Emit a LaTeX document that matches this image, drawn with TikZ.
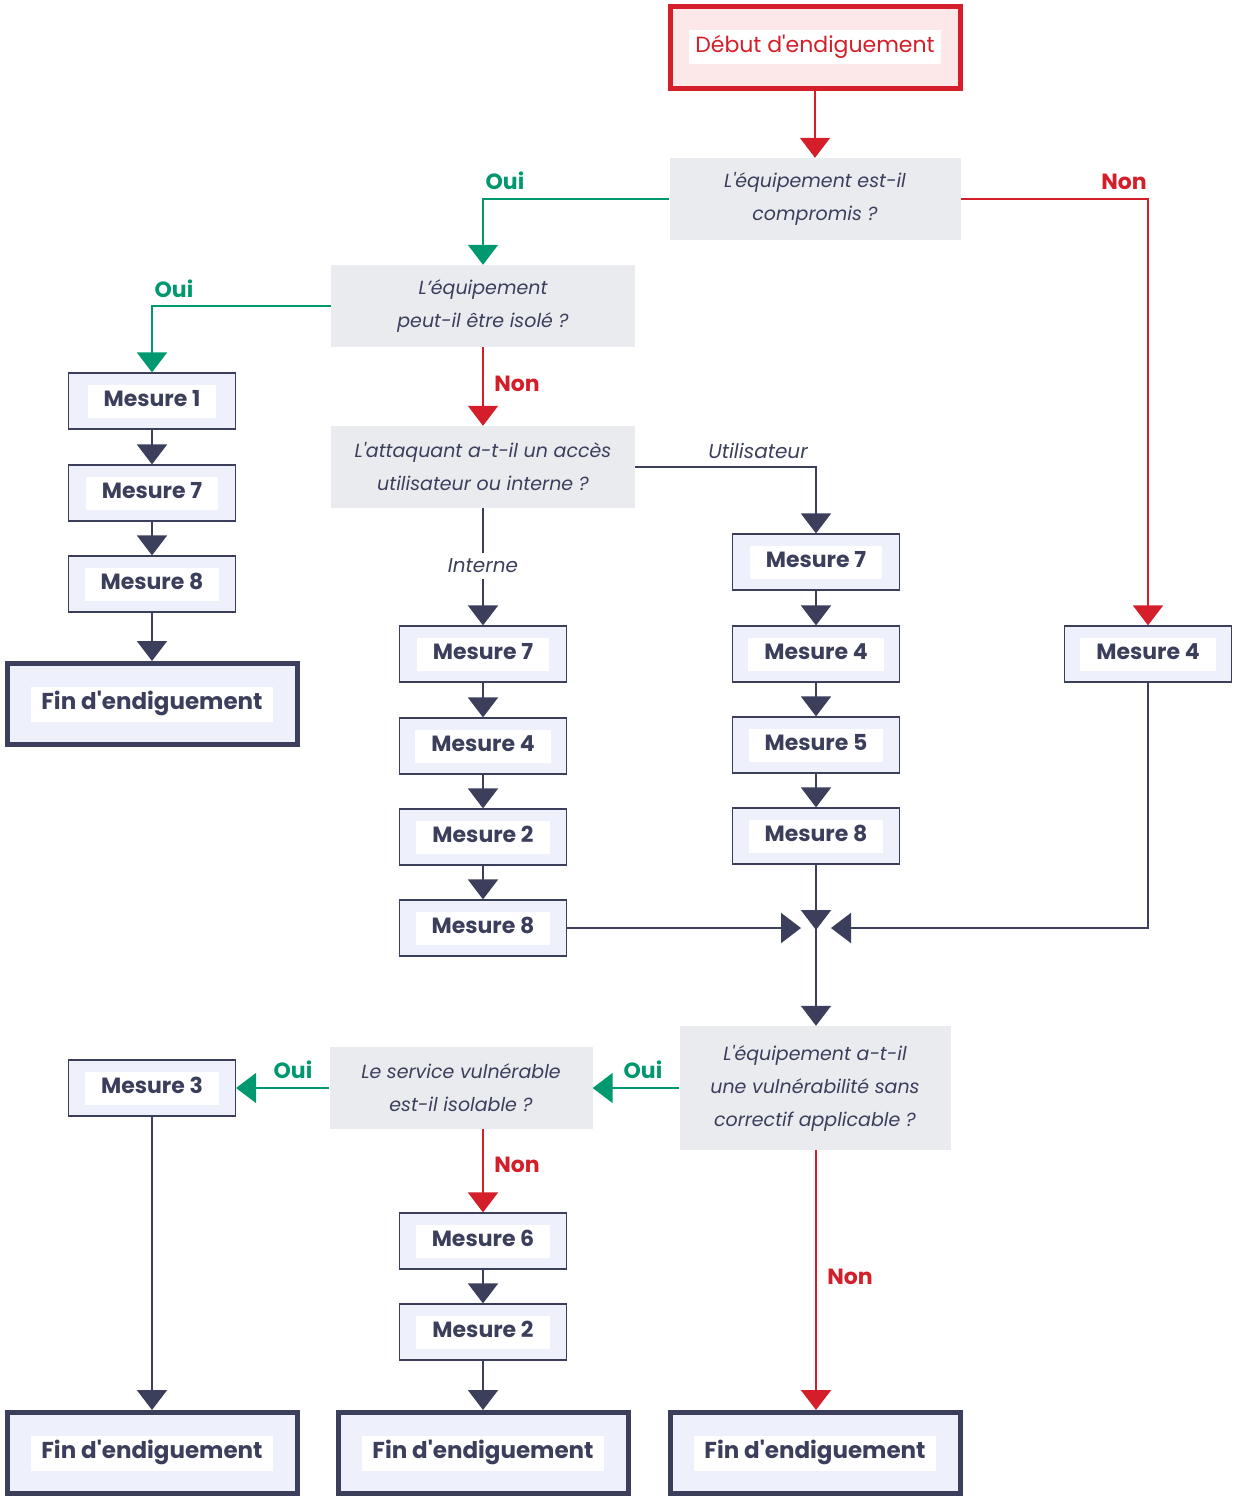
\documentclass[tikz,border=0pt]{standalone}
\usepackage{fontspec}
\setmainfont{Poppins}
\usetikzlibrary{arrows.meta}
\definecolor{dk}{HTML}{3B3F5C}
\definecolor{rd}{HTML}{D41F2A}
\definecolor{gr}{HTML}{00986F}
\definecolor{bx}{HTML}{EEF1FB}
\definecolor{qg}{HTML}{E9EBEF}
\definecolor{pk}{HTML}{FCE8E8}
\newcommand{\ap}{\textquotesingle}
\newcommand{\wb}[1]{{\setlength\fboxsep{4pt}\colorbox{white}{\strut\hspace{12pt}#1\hspace{12pt}}}}
\begin{document}
\begin{tikzpicture}[x=1pt,y=-1pt,
 m/.style={draw=dk,line width=1.2pt,fill=bx,minimum width=167pt,minimum height=56pt,inner sep=0pt,text=dk,font=\fontsize{22}{25}\selectfont\bfseries},
 fin/.style={draw=dk,line width=5pt,fill=bx,minimum width=290pt,minimum height=81pt,inner sep=0pt,text=dk,font=\fontsize{23}{27}\selectfont\bfseries},
 q/.style={fill=qg,text=dk,align=center,font=\fontsize{19}{33}\selectfont\itshape,inner sep=0pt},
 a/.style={line width=1.8pt,-{Triangle[width=30pt,length=20pt]}},
 lg/.style={text=gr,font=\fontsize{22}{26}\selectfont\bfseries},
 lr/.style={text=rd,font=\fontsize{22}{26}\selectfont\bfseries},
 li/.style={text=dk,font=\fontsize{20}{22}\selectfont\itshape,fill=white}]
\useasboundingbox (0,0) rectangle (1237,1500);
\node[draw=rd,line width=5pt,fill=pk,minimum width=290pt,minimum height=82pt,inner sep=0pt,text=rd,font=\fontsize{22}{25}\selectfont] (start) at (815,47) {\wb{\hspace{-10pt}Début d\ap endiguement\hspace{-10pt}}};
\node[q,minimum width=291pt,minimum height=82pt] (q1) at (815,199) {L\ap équipement est-il\\compromis ?};
\node[q,minimum width=304pt,minimum height=82pt] (q2) at (483,306) {L’équipement\\peut-il être isolé ?};
\node[q,minimum width=304pt,minimum height=82pt] (q3) at (483,467) {L\ap attaquant a-t-il un accès\\utilisateur ou interne ?};
\node[m] (a1) at (152,401) {\wb{Mesure 1}};
\node[m] (a2) at (152,493) {\wb{Mesure 7}};
\node[m] (a3) at (152,584) {\wb{Mesure 8}};
\node[fin] (f1) at (152,704) {\wb{\hspace{-6pt}Fin d\ap endiguement\hspace{-6pt}}};
\node[m] (b1) at (483,654) {\wb{Mesure 7}};
\node[m] (b2) at (483,746) {\wb{Mesure 4}};
\node[m] (b3) at (483,837) {\wb{Mesure 2}};
\node[m] (b4) at (483,928) {\wb{Mesure 8}};
\node[m] (c1) at (816,562) {\wb{Mesure 7}};
\node[m] (c2) at (816,654) {\wb{Mesure 4}};
\node[m] (c3) at (816,745) {\wb{Mesure 5}};
\node[m] (c4) at (816,836) {\wb{Mesure 8}};
\node[m] (d1) at (1148,654) {\wb{Mesure 4}};
\coordinate (mg) at (816,928);
\node[q,minimum width=271pt,minimum height=124pt] (q4) at (815,1088) {L\ap équipement a-t-il\\une vulnérabilité sans\\correctif applicable ?};
\node[q,minimum width=263pt,minimum height=82pt] (q5) at (461,1088) {Le service vulnérable\\est-il isolable ?};
\node[m] (e1) at (152,1088) {\wb{Mesure 3}};
\node[m] (g1) at (483,1241) {\wb{Mesure 6}};
\node[m] (g2) at (483,1332) {\wb{Mesure 2}};
\node[fin] (f2) at (152,1453) {\wb{\hspace{-6pt}Fin d\ap endiguement\hspace{-6pt}}};
\node[fin] (f3) at (483,1453) {\wb{\hspace{-6pt}Fin d\ap endiguement\hspace{-6pt}}};
\node[fin] (f4) at (815,1453) {\wb{\hspace{-6pt}Fin d\ap endiguement\hspace{-6pt}}};
% connectors
\draw[a,rd] (start.south) -- (q1.north);
\draw[a,gr] (q1.west) -| (q2.north);
\node[lg] (o1) at (505,181) {Oui};
\draw[a,rd] (q1.east) -| (d1.north);
\node[lr] (n1) at (1124,182) {Non};
\draw[a,gr] (q2.west) -| (a1.north);
\node[lg] (o2) at (174,289) {Oui};
\draw[a,rd] (q2.south) -- (q3.north);
\node[lr] (n2) at (517,384) {Non};
\draw[a,dk] (q3.east) -| (c1.north);
\node[li] (ut) at (758,451) {Utilisateur};
\node[li,inner sep=6pt] (in) at (483,566) {Interne};
\draw[dk,line width=1.8pt] (q3.south) -- (in.north);
\draw[a,dk] (in.south) -- (b1.north);
\foreach \u/\v in {a1/a2,a2/a3,a3/f1,b1/b2,b2/b3,b3/b4,c1/c2,c2/c3,c3/c4,e1/f2,g1/g2,g2/f3}
  \draw[a,dk] (\u.south) -- (\v.north);
\draw[a,dk] (b4.east) -- ([xshift=-15pt]mg);
\draw[a,dk] (d1.south) |- ([xshift=15pt]mg);
\draw[a,dk] (c4.south) -- ([yshift=-2pt]mg);
\draw[a,dk] ([yshift=12pt]mg) -- (q4.north -| mg);
\draw[a,gr] (q4.west) -- (q5.east);
\node[lg] (o3) at (643,1070) {Oui};
\draw[a,gr] (q5.west) -- (e1.east);
\node[lg] (o4) at (293,1070) {Oui};
\draw[a,rd] (q5.south -| g1) -- (g1.north);
\node[lr] (n3) at (517,1165) {Non};
\draw[a,rd] (q4.south -| mg) -- (f4.north -| mg);
\node[lr] (n4) at (850,1277) {Non};
\end{tikzpicture}
\end{document}
